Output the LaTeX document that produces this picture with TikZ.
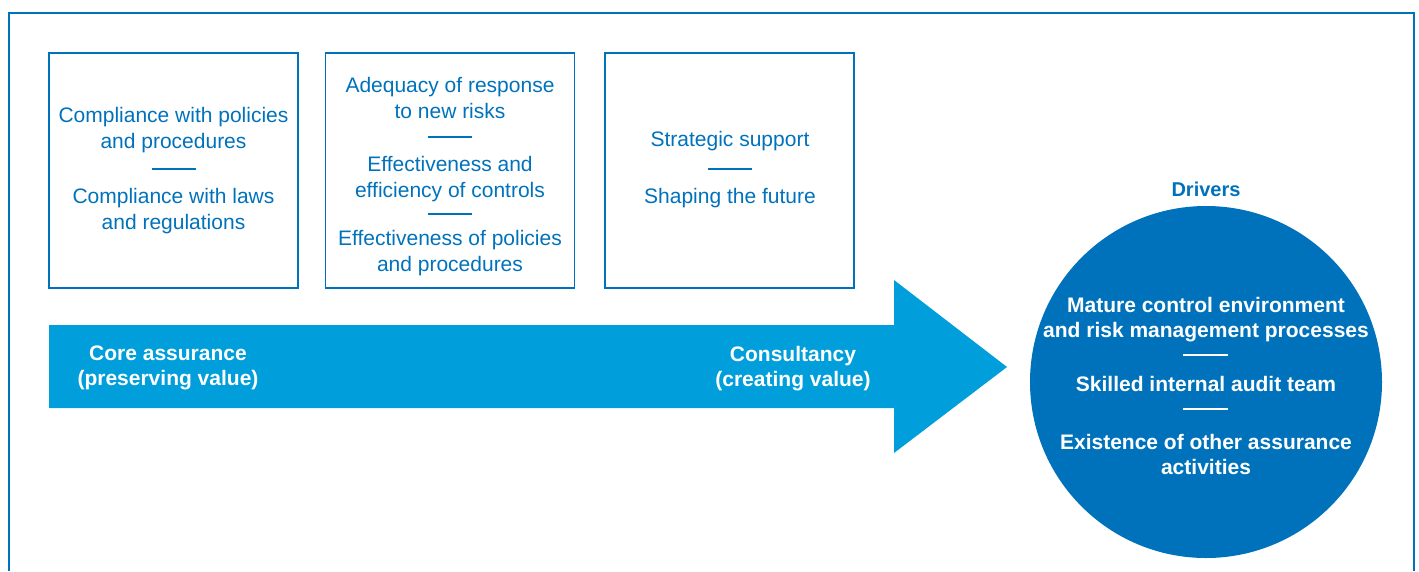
\documentclass[tikz,border=0pt]{standalone}
\usepackage{fontspec}
\setmainfont{Liberation Sans}
\usetikzlibrary{positioning}
\definecolor{kblue}{RGB}{0,114,188}
\definecolor{kcyan}{RGB}{0,159,219}

\begin{document}
\begin{tikzpicture}[x=1pt,y=-1pt,
    box/.style={draw=kblue,line width=1.5pt,minimum width=249pt,minimum height=235pt,inner sep=0pt},
    txt/.style={text=kblue,align=center,inner sep=0pt,font=\fontsize{21}{26}\selectfont},
    btxt/.style={text=white,align=center,inner sep=0pt,font=\bfseries\fontsize{21}{25}\selectfont},
    divider/.style={line width=1.5pt}]
    \useasboundingbox (0,0) rectangle (1419,571);
    % outer frame, open at the bottom
    \draw[kblue,line width=2.5pt] (9,571) -- (9,13) -- (1414,13) -- (1414,571);

    % the three boxes
    \node[box] (assure) at (173.5,170.5) {};
    \node[box] (control) [right=26pt of assure] {};
    \node[box] (strategy) [right=29pt of control] {};

    \node[txt] (comp1) at (173.5,130) {Compliance with policies\\and procedures};
    \node[txt] (comp2) at (173.5,211) {Compliance with laws\\and regulations};
    \node[txt] (adeq) at (450,98) {Adequacy of response\\to new risks};
    \node[txt] (effctl) at (450,179) {Effectiveness and\\efficiency of controls};
    \node[txt] (effpol) at (450,253) {Effectiveness of policies\\and procedures};
    \node[txt] (support) at (730,141) {Strategic support};
    \node[txt] (future) at (730,198) {Shaping the future};
    \foreach \x/\y in {173.5/169, 450/137, 450/214, 730/169}
        \draw[divider,kblue] (\x-22,\y) -- (\x+22,\y);

    % big arrow
    \fill[kcyan] (49,325) -- (894,325) -- (894,280) -- (1007,367)
        -- (894,453) -- (894,408) -- (49,408) -- cycle;
    \node[btxt] (core) at (168,368) {Core assurance\\(preserving value)};
    \node[btxt] (consult) at (793,369) {Consultancy\\(creating value)};

    % drivers
    \node[circle,fill=kblue,minimum size=352pt,inner sep=0pt] (drv) at (1206,382) {};
    \node[btxt,text=kblue,font=\bfseries\fontsize{20}{24}\selectfont] (drvtitle) at (1206,189) {Drivers};
    \node[btxt] (mature) at (1206,320) {Mature control environment\\and risk management processes};
    \node[btxt] (skilled) at (1206,384) {Skilled internal audit team};
    \node[btxt] (exist) at (1206,454) {Existence of other assurance\\activities};
    \foreach \y in {355, 409}
        \draw[divider,white] (1183,\y) -- (1228,\y);
\end{tikzpicture}
\end{document}
